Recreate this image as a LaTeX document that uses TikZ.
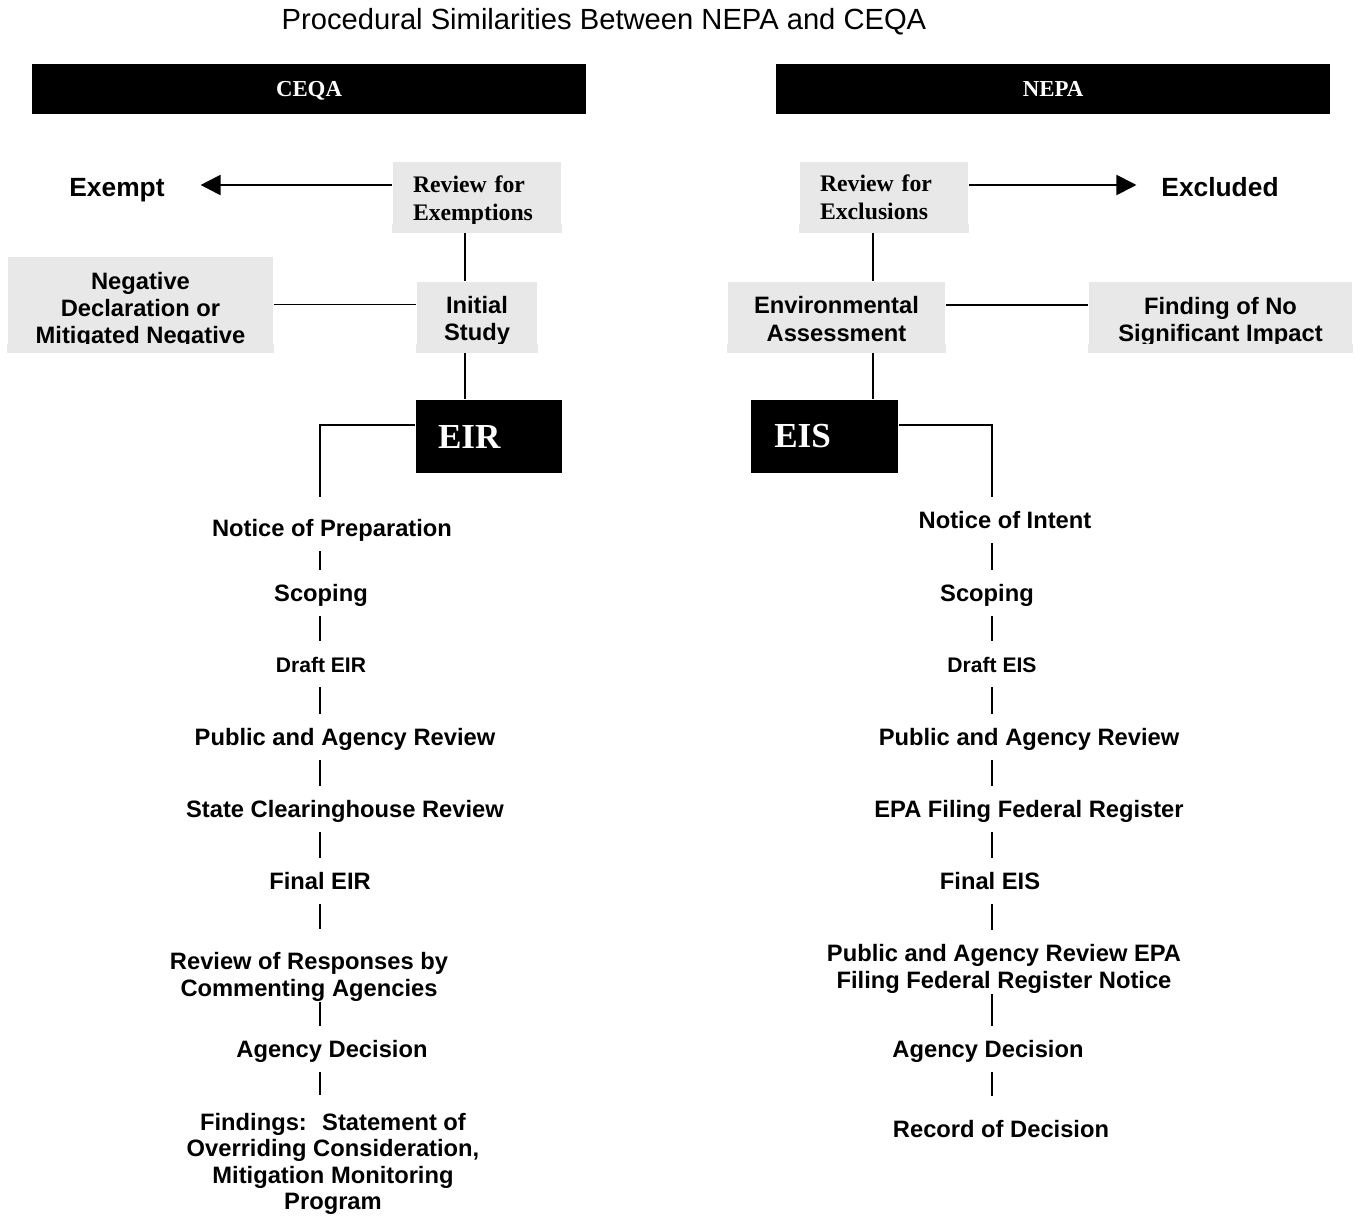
\documentclass[tikz,border=0pt]{standalone}
\usepackage{fontspec}
\setmainfont{Liberation Serif}
\setsansfont{Liberation Sans}
\usetikzlibrary{arrows.meta}
\definecolor{boxgrey}{RGB}{232,232,232}

\begin{document}
\begin{tikzpicture}[x=0.02cm, y=-0.02cm, every node/.style={inner sep=0pt},
	>={Triangle[length=4mm, width=4mm]}, line width=1.1pt,
	bar/.style={fill=black, text=white, minimum width=11.08cm, minimum height=1cm, text height=8.6pt, text depth=0pt, font=\rmfamily\bfseries\fontsize{13}{15}\selectfont},
	greybox/.style={fill=boxgrey, align=center, minimum height=1.4cm, font=\sffamily\bfseries\fontsize{13.5}{15.5}\selectfont},
	reviewbox/.style={fill=boxgrey, align=left, minimum height=1.4cm, text width=2.56cm, inner xsep=0.4cm, font=\rmfamily\bfseries\fontsize{13.5}{15.8}\selectfont},
	docbox/.style={fill=black, text=white, align=left, minimum height=1.46cm, text width=2.04cm, inner xsep=0.44cm, font=\rmfamily\bfseries\fontsize{20}{24}\selectfont},
	outcome/.style={font=\sffamily\bfseries\fontsize{15}{18}\selectfont},
	stage/.style={font=\sffamily\bfseries\fontsize{13.5}{15.5}\selectfont, minimum height=0.88cm, text height=9.7pt, text depth=0pt},
	stages/.style={font=\sffamily\bfseries\fontsize{13.5}{15}\selectfont, align=center}]
	\useasboundingbox (0,0) rectangle (1358,1216);

	\node (title) at (604,22) {\sffamily\fontsize{16.6}{20}\selectfont Procedural Similarities Between NEPA and CEQA};
	\node[bar] (ceqa) at (309,89) {CEQA};
	\node[bar] (nepa) at (1053,89) {NEPA};

	% CEQA side
	\node[outcome] (exempt) at (117,190) {Exempt};
	\node[reviewbox, minimum width=3.36cm] (rex) at (477,197) {\rule{0pt}{13.8pt}Review for\\Exemptions};
	\node[greybox, minimum width=2.4cm] (init) at (477,317) {\rule{0pt}{14.2pt}Initial\\Study};
	\node[greybox, minimum width=5.3cm, minimum height=1.9cm] (neg) at (140.5,304.5) {\rule{0pt}{16.5pt}Negative\\Declaration or\\Mitigated Negative};
	\node[docbox] (eir) at (489,436.5) {EIR};
	\coordinate (lx) at (465,0);
	\coordinate (lc) at (320,0);

	\node[stage] (np) at (332,528) {Notice of Preparation};
	\node[stage] (sc) at (321,593) {Scoping};
	\node[stage, font=\sffamily\bfseries\fontsize{12}{14}\selectfont] (de) at (321,664) {Draft EIR};
	\node[stage] (pr) at (345,737) {Public and Agency Review};
	\node[stage] (sch) at (345,809) {State Clearinghouse Review};
	\node[stage] (fe) at (320,881) {Final EIR};
	\node[stages] (rr) at (309,977) {Review of Responses by\\Commenting Agencies};
	\node[stage] (ad) at (332,1049) {Agency Decision};
	\node[stages] (fi) at (333,1164) {Findings:~ Statement of\\Overriding Consideration,\\Mitigation Monitoring\\Program};

	% NEPA side
	\node[reviewbox, minimum width=3.36cm] (rxl) at (884,197) {Review for\\Exclusions};
	\node[outcome] (excl) at (1220,187) {Excluded};
	\node[greybox, minimum width=4.34cm] (ea) at (836.5,317) {\rule{0pt}{12pt}Environmental\\Assessment};
	\node[greybox, minimum width=5.26cm] (fnsi) at (1220.5,317) {\rule{0pt}{15pt}Finding of No\\Significant Impact};
	\node[docbox, text width=2.01cm, inner xsep=0.46cm] (eis) at (824.5,436.5) {EIS};
	\coordinate (rx) at (873,0);
	\coordinate (rc) at (992,0);

	\node[stage] (ni) at (1005,520) {Notice of Intent};
	\node[stage] (sc2) at (987,593) {Scoping};
	\node[stage, font=\sffamily\bfseries\fontsize{12}{14}\selectfont] (ds) at (992,664) {Draft EIS};
	\node[stage] (pr2) at (1029,737) {Public and Agency Review};
	\node[stage] (epa) at (1029,809) {EPA Filing Federal Register};
	\node[stage] (fs) at (990,881) {Final EIS};
	\node[stages] (pe) at (1004,969) {Public and Agency Review EPA\\Filing Federal Register Notice};
	\node[stage] (ad2) at (988,1049) {Agency Decision};
	\node[stage] (rd) at (1001,1129) {Record of Decision};

	% text frames cut off the last line
	\foreach \b in {rex, neg, init, rxl, ea, fnsi}
		\fill[boxgrey] ([yshift=0.18cm]\b.south west) rectangle (\b.south east);

	% connectors
	\draw[->, shorten >=0.7cm] ([yshift=0.24cm]rex.west) -- ([yshift=0.24cm]rex.west -| exempt.east);
	\draw (rex.south -| lx) -- (init.north -| lx);
	\draw (neg.east) -- (neg.east -| init.west);
	\draw (init.south -| lx) -- (eir.north -| lx);
	\draw[shorten >=0.16cm] ([yshift=0.23cm]eir.west) -| (np.north -| lc);
	\foreach \a/\b/\s in {np/sc/0, sc/de/0, de/pr/0, pr/sch/0, sch/fe/0, fe/rr/0.46, rr/ad/0, ad/fi/0.34}
		\draw[shorten >=\s cm] (\a.south -| lc) -- (\b.north -| lc);

	\draw[->, shorten >=0.48cm] ([yshift=0.24cm]rxl.east) -- ([yshift=0.24cm]rxl.east -| excl.west);
	\draw (rxl.south -| rx) -- (ea.north -| rx);
	\draw ([yshift=0.24cm]ea.east) -- ([yshift=0.24cm]ea.east -| fnsi.west);
	\draw (ea.south -| rx) -- (eis.north -| rx);
	\draw ([yshift=0.23cm]eis.east) -| (ni.north -| rc);
	\foreach \a/\b/\s in {ni/sc2/0, sc2/ds/0, ds/pr2/0, pr2/epa/0, epa/fs/0, fs/pe/0.28, pe/ad2/0, ad2/rd/0.2}
		\draw[shorten >=\s cm] (\a.south -| rc) -- (\b.north -| rc);
\end{tikzpicture}
\end{document}
